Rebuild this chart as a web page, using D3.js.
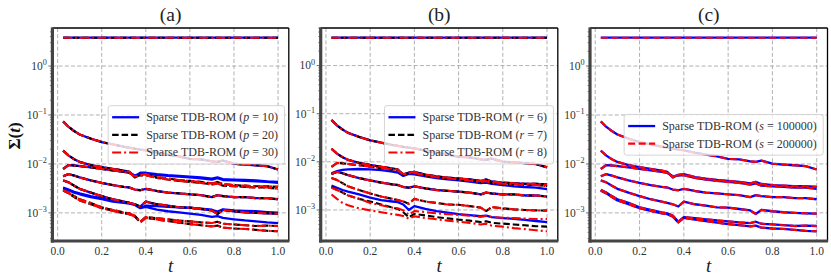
<!DOCTYPE html>
<html>
<head>
<meta charset="utf-8">
<style>
  body { margin: 0; background: #fff; }
  svg { display: block; }
</style>
</head>
<body>
<svg width="831" height="280"></svg>
<script src="https://d3js.org/d3.v7.min.js"></script>
<script>

// time samples
var tVals = [0.025, 0.05, 0.075, 0.1, 0.15, 0.2, 0.25, 0.3, 0.325, 0.35, 0.375, 0.4, 0.45,
             0.5, 0.55, 0.6, 0.65, 0.7, 0.725, 0.75, 0.8, 0.85, 0.9, 0.95, 1.0];

// singular values, reference curves (shared where the series overlap)
var sig1 = [3.8, 3.8, 3.8, 3.8, 3.8, 3.8, 3.8, 3.8, 3.8, 3.8, 3.8, 3.8, 3.8,
            3.8, 3.8, 3.8, 3.8, 3.8, 3.8, 3.8, 3.8, 3.8, 3.8, 3.8, 3.8];
var sig2 = [0.074, 0.057, 0.047, 0.040, 0.033, 0.028, 0.025, 0.0225, 0.0215, 0.0205, 0.0197, 0.0190, 0.0170,
            0.0155, 0.0142, 0.0127, 0.0124, 0.0113, 0.0110, 0.0117, 0.0101, 0.0097, 0.0094, 0.0090, 0.0077];
var sigA = [0.0187, 0.0148, 0.0125, 0.0110, 0.0095, 0.0086, 0.0079, 0.0073, 0.0069, 0.0053, 0.0060, 0.0062, 0.0054,
            0.0050, 0.0047, 0.0045, 0.0043, 0.0040, 0.0043, 0.0039, 0.0037, 0.0036, 0.0035, 0.0035, 0.0034];
var sigB = [0.0079, 0.0095, 0.0093, 0.0090, 0.0085, 0.0079, 0.0074, 0.0069, 0.0066, 0.0056, 0.0058, 0.0059, 0.0052,
            0.0048, 0.0045, 0.0043, 0.0041, 0.0038, 0.0040, 0.0036, 0.0035, 0.0034, 0.0033, 0.0033, 0.0031];
var sigC = [0.0056, 0.0062, 0.0058, 0.0053, 0.0046, 0.0041, 0.0037, 0.0034, 0.0033, 0.0030, 0.0029, 0.0031, 0.0028,
            0.0026, 0.0025, 0.0024, 0.0023, 0.0021, 0.0023, 0.0022, 0.0021, 0.0021, 0.0020, 0.0020, 0.0019];
var sigD = [0.0046, 0.0042, 0.0036, 0.0031, 0.0026, 0.0022, 0.0019, 0.0017, 0.0016, 0.0015, 0.00135, 0.0017, 0.0015,
            0.0014, 0.0013, 0.00128, 0.0012, 0.00112, 0.00095, 0.00115, 0.00108, 0.00103, 0.00100, 0.00098, 0.00097];
var sigE = [0.00295, 0.0026, 0.0022, 0.0019, 0.0016, 0.0013, 0.00115, 0.00102, 0.00098, 0.00088, 0.00066, 0.00082, 0.00078,
            0.00074, 0.00070, 0.00067, 0.00064, 0.00062, 0.00066, 0.00060, 0.00058, 0.00056, 0.00054, 0.00055, 0.00054];
var sigF = [0.00285, 0.0025, 0.0021, 0.0018, 0.0015, 0.00125, 0.0011, 0.00098, 0.00094, 0.00084, 0.00064, 0.00079, 0.00073,
            0.00068, 0.00063, 0.00059, 0.00056, 0.00053, 0.00055, 0.00050, 0.00048, 0.00047, 0.00045, 0.00043, 0.00042];

// panel (a), p = 10 deviations
var pA10 = [0.0187, 0.0148, 0.0125, 0.0110, 0.0095, 0.0086, 0.0079, 0.0073, 0.0069, 0.0056, 0.0066, 0.0066, 0.0062,
            0.0059, 0.0057, 0.0055, 0.0053, 0.0050, 0.0053, 0.0049, 0.0048, 0.0047, 0.0046, 0.0044, 0.0043];
var pB10 = [0.0079, 0.0095, 0.0093, 0.0090, 0.0085, 0.0079, 0.0074, 0.0069, 0.0066, 0.0058, 0.0063, 0.0064, 0.0060,
            0.0057, 0.0055, 0.0053, 0.0051, 0.0048, 0.0051, 0.0047, 0.0046, 0.0045, 0.0044, 0.0043, 0.0041];
var pE10 = [0.0033, 0.0030, 0.0027, 0.0025, 0.0022, 0.0020, 0.0018, 0.00168, 0.0016, 0.0015, 0.00128, 0.0014, 0.00138,
            0.00133, 0.0013, 0.00127, 0.00122, 0.00116, 0.00106, 0.00118, 0.00112, 0.0011, 0.00108, 0.00104, 0.00101];
var pF10 = [0.0032, 0.0029, 0.0026, 0.0024, 0.0021, 0.0019, 0.0017, 0.0016, 0.00155, 0.00145, 0.00125, 0.00133, 0.00117,
            0.00108, 0.00102, 0.00097, 0.00091, 0.00083, 0.00086, 0.00079, 0.00074, 0.0007, 0.00067, 0.00064, 0.00062];

// panel (b), rank deviations
var r6Band = [0.0058, 0.0064, 0.0068, 0.0070, 0.0071, 0.0070, 0.0067, 0.0063, 0.0060, 0.0051, 0.0056, 0.0055, 0.0050,
              0.0046, 0.0043, 0.0041, 0.0039, 0.0036, 0.0037, 0.0035, 0.0033, 0.0031, 0.0030, 0.0029, 0.0027];
var r6Low = [0.0032, 0.0029, 0.0026, 0.0024, 0.0021, 0.0018, 0.0016, 0.0015, 0.00145, 0.0013, 0.0010, 0.0012, 0.00105,
             0.00095, 0.00088, 0.00082, 0.00078, 0.00074, 0.00076, 0.00071, 0.00068, 0.00065, 0.00062, 0.00059, 0.00056];
var r7Low = [0.0030, 0.0026, 0.0023, 0.0020, 0.0017, 0.0015, 0.0013, 0.00112, 0.00105, 0.00090, 0.00070, 0.00083, 0.00077,
             0.00071, 0.00067, 0.00063, 0.00060, 0.00056, 0.00058, 0.00054, 0.00052, 0.00050, 0.00048, 0.00046, 0.00045];
var r8Mid = [0.0029, 0.0026, 0.0023, 0.0020, 0.0017, 0.0014, 0.00125, 0.00112, 0.00108, 0.00098, 0.00080, 0.00095, 0.00090,
             0.00085, 0.00082, 0.00079, 0.00076, 0.00072, 0.00075, 0.00071, 0.00069, 0.00068, 0.00066, 0.00065, 0.00065];
var r8Low = [0.0021, 0.0017, 0.0014, 0.00125, 0.00108, 0.00098, 0.0009, 0.00082, 0.00079, 0.00075, 0.00066, 0.00074, 0.00068,
             0.00064, 0.00060, 0.00057, 0.00054, 0.00050, 0.00052, 0.00047, 0.00045, 0.00042, 0.00040, 0.00038, 0.00036];

var xTicks = [0, 0.2, 0.4, 0.6, 0.8, 1.0];
var yTicks = [1, 0.1, 0.01, 0.001];
var yTickExp = ["0", "\u22121", "\u22122", "\u22123"];

var styles = {
  blue:    { color: "#0000ff", dash: null,       width: 2.3 },
  black:   { color: "#000000", dash: "6.5,3",    width: 2.1 },
  dashdot: { color: "#ff0000", dash: "9,3,2,3",  width: 2.1 },
  dash:    { color: "#ff0000", dash: "7,3.5",    width: 2.1 }
};

var refAll = [sig1, sig2, sigA, sigB, sigC, sigD, sigE, sigF];

var panels = [
  { title: "(a)", x0: 52.4, x1: 288.8, sym: "p", series: [
      { label: "10", style: "blue",    curves: [sig1, sig2, pA10, pB10, sigC, sigD, pE10, pF10] },
      { label: "20", style: "black",   curves: refAll },
      { label: "30", style: "dashdot", curves: refAll } ] },
  { title: "(b)", x0: 320.7, x1: 557.8, sym: "r", series: [
      { label: "6", style: "blue",    curves: [sig1, sig2, sigA, r6Band, sigC, r6Low] },
      { label: "7", style: "black",   curves: [sig1, sig2, sigA, sigB, sigC, sigD, r7Low] },
      { label: "8", style: "dashdot", curves: [sig1, sig2, sigA, sigB, sigC, sigD, r8Mid, r8Low] } ] },
  { title: "(c)", x0: 590, x1: 827.5, sym: "s", series: [
      { label: "100000", style: "blue", curves: refAll },
      { label: "200000", style: "dash", curves: refAll } ] }
];

var svg = d3.select("svg");
var serif = "'Liberation Serif'";
var yTop = 28, yBot = 241;
var txtColor = "#333";

var tPad = (d3.max(tVals) - d3.min(tVals)) * 0.05;

panels.forEach(function(p) {
  var g = svg.append("g");

  var x = d3.scaleLinear()
    .domain([d3.min(tVals) - tPad, d3.max(tVals) + tPad])
    .range([p.x0, p.x1]);

  var all = [];
  p.series.forEach(function(s) { s.curves.forEach(function(c) { all = all.concat(c); }); });
  var lo = Math.log10(d3.min(all)), hi = Math.log10(d3.max(all)), m = (hi - lo) * 0.05;
  var y = d3.scaleLog()
    .domain([Math.pow(10, lo - m), Math.pow(10, hi + m)])
    .range([yBot, yTop]);

  // grid
  g.append("g").selectAll("line").data(xTicks).join("line")
    .attr("x1", function(d) { return x(d); }).attr("x2", function(d) { return x(d); })
    .attr("y1", yTop).attr("y2", yBot)
    .attr("stroke", "#a8a8a8").attr("stroke-width", 0.9).attr("stroke-dasharray", "4,2.2");
  g.append("g").selectAll("line").data(yTicks).join("line")
    .attr("x1", p.x0).attr("x2", p.x1)
    .attr("y1", function(d) { return y(d); }).attr("y2", function(d) { return y(d); })
    .attr("stroke", "#a8a8a8").attr("stroke-width", 0.9).attr("stroke-dasharray", "4,2.2");

  // data
  var line = d3.line()
    .x(function(d, i) { return x(tVals[i]); })
    .y(function(d) { return y(d); });

  p.series.forEach(function(s) {
    var st = styles[s.style];
    g.append("g").selectAll("path").data(s.curves).join("path")
      .attr("d", line)
      .attr("fill", "none")
      .attr("stroke", st.color)
      .attr("stroke-width", st.width)
      .attr("stroke-dasharray", st.dash)
      .attr("stroke-linejoin", "round");
  });

  // minor y ticks
  var minors = [];
  for (var k = -5; k <= 1; k++) {
    for (var j = 2; j <= 9; j++) {
      var v = j * Math.pow(10, k);
      if (v > y.domain()[0] && v < y.domain()[1]) minors.push(v);
    }
  }
  g.append("g").selectAll("line").data(minors).join("line")
    .attr("x1", p.x0 - 2.5).attr("x2", p.x0)
    .attr("y1", function(d) { return y(d); }).attr("y2", function(d) { return y(d); })
    .attr("stroke", "#444").attr("stroke-width", 0.6);
  g.append("g").selectAll("line").data(yTicks).join("line")
    .attr("x1", p.x0 - 4).attr("x2", p.x0)
    .attr("y1", function(d) { return y(d); }).attr("y2", function(d) { return y(d); })
    .attr("stroke", "#444").attr("stroke-width", 0.8);

  // spines
  g.append("line").attr("x1", p.x0).attr("x2", p.x1).attr("y1", yTop).attr("y2", yTop)
    .attr("stroke", "#000").attr("stroke-width", 1.3);
  g.append("line").attr("x1", p.x1).attr("x2", p.x1).attr("y1", yTop).attr("y2", yBot)
    .attr("stroke", "#000").attr("stroke-width", 1.3);
  g.append("line").attr("x1", p.x0).attr("x2", p.x0).attr("y1", yTop - 0.6).attr("y2", yBot + 1.6)
    .attr("stroke", "#444").attr("stroke-width", 3.2);
  g.append("line").attr("x1", p.x0 - 1.6).attr("x2", p.x1 + 0.6).attr("y1", yBot).attr("y2", yBot)
    .attr("stroke", "#444").attr("stroke-width", 3.2);

  // tick labels
  g.append("g").selectAll("text").data(xTicks).join("text")
    .attr("x", function(d) { return x(d); })
    .attr("y", 254.5)
    .attr("text-anchor", "middle")
    .attr("font-size", 11.5)
    .style("font-family", serif)
    .attr("fill", txtColor)
    .text(d3.format(".1f"));

  yTicks.forEach(function(d, i) {
    var t = g.append("text")
      .attr("x", p.x0 - 5.5)
      .attr("y", y(d) + 3.8)
      .attr("text-anchor", "end")
      .attr("font-size", 11.5)
      .style("font-family", serif)
      .attr("fill", txtColor);
    t.append("tspan").text("10");
    t.append("tspan").attr("dy", -4.6).attr("font-size", 8.2).text(yTickExp[i]);
  });

  // axis label and title
  g.append("text")
    .attr("x", (p.x0 + p.x1) / 2).attr("y", 271.5)
    .attr("text-anchor", "middle")
    .attr("font-size", 19).attr("font-style", "italic")
    .style("font-family", serif)
    .attr("fill", "#222")
    .text("t");
  g.append("text")
    .attr("x", (p.x0 + p.x1) / 2).attr("y", 21)
    .attr("text-anchor", "middle")
    .attr("font-size", 19.5)
    .style("font-family", serif)
    .attr("fill", "#222")
    .text(p.title);

  // legend (center right)
  var rowH = 17.6, n = p.series.length;
  var boxH = n * rowH + 5.5;
  var boxTop = (yTop + yBot) / 2 - boxH / 2 + 0.3;
  var lg = g.append("g");
  var rect = lg.append("rect");
  var texts = [];
  p.series.forEach(function(s, i) {
    var cy = boxTop + 2.8 + rowH * (i + 0.5);
    var txt = lg.append("text")
      .attr("y", cy + 4)
      .attr("font-size", 12)
      .style("font-family", serif)
      .attr("fill", txtColor);
    txt.append("tspan").text("Sparse TDB-ROM (");
    txt.append("tspan").attr("font-style", "italic").text(p.sym);
    txt.append("tspan").text(" = " + s.label + ")");
    texts.push({ node: txt, cy: cy, st: styles[s.style] });
  });
  var tw = d3.max(texts, function(d) { return d.node.node().getComputedTextLength(); });
  var boxRight = p.x1 - 4.3;
  var boxLeft = boxRight - (4 + 27 + 7 + tw + 6.5);
  rect.attr("x", boxLeft).attr("y", boxTop).attr("width", boxRight - boxLeft).attr("height", boxH)
    .attr("rx", 2.5)
    .attr("fill", "#fff").attr("fill-opacity", 0.8)
    .attr("stroke", "#d0d0d0").attr("stroke-width", 0.9);
  texts.forEach(function(d) {
    d.node.attr("x", boxLeft + 38);
    lg.append("line")
      .attr("x1", boxLeft + 4).attr("x2", boxLeft + 31)
      .attr("y1", d.cy).attr("y2", d.cy)
      .attr("stroke", d.st.color).attr("stroke-width", d.st.width)
      .attr("stroke-dasharray", d.st.dash);
  });
});

// shared y label
var yl = svg.append("text")
  .attr("transform", "translate(19.5,136) rotate(-90)")
  .attr("text-anchor", "middle")
  .style("font-family", serif)
  .attr("font-size", 17)
  .attr("font-weight", "bold")
  .attr("fill", "#111");
yl.append("tspan").text("\u03A3(");
yl.append("tspan").attr("font-style", "italic").text("t");
yl.append("tspan").text(")");

</script>
</body>
</html>
